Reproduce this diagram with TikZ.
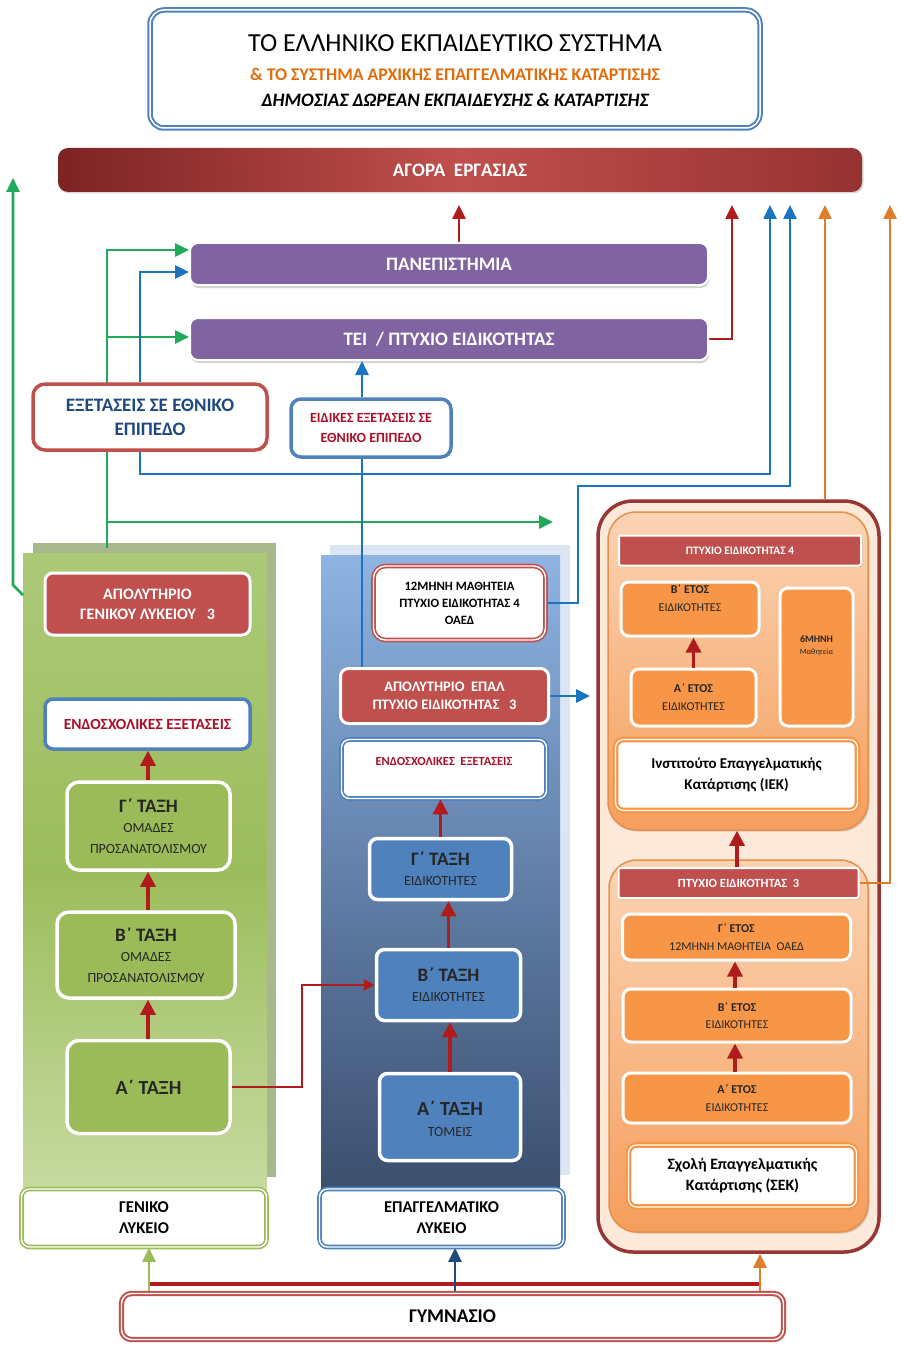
\documentclass[tikz,border=0pt]{standalone}
\usepackage{fontspec}
\setmainfont{Carlito}
\usetikzlibrary{arrows.meta,shadows,calc}
\definecolor{cred}{HTML}{C0504D}
\definecolor{carr}{HTML}{B01C1C}
\definecolor{cblue}{HTML}{4F81BD}
\definecolor{cblink}{HTML}{1B75BC}
\definecolor{cnavy}{HTML}{1F497D}
\definecolor{cgreen}{HTML}{9BBB59}
\definecolor{cglink}{HTML}{1EAA58}
\definecolor{corange}{HTML}{F79646}
\definecolor{colink}{HTML}{E07D2C}
\definecolor{cpurple}{HTML}{8064A2}
\definecolor{ctred}{HTML}{A8102A}
\definecolor{cframe}{HTML}{953735}
\definecolor{cpeach}{HTML}{FDE9D9}
\definecolor{ctitleor}{HTML}{E36C09}
\definecolor{gtop}{RGB}{172,201,120}
\definecolor{gmid}{RGB}{156,189,92}
\definecolor{gbot}{RGB}{198,218,160}
\definecolor{gshadow}{RGB}{168,184,140}
\definecolor{btop}{RGB}{142,180,227}
\definecolor{bmid}{RGB}{98,128,170}
\definecolor{bbot}{RGB}{60,80,110}
\definecolor{bshadow}{RGB}{220,230,242}
\definecolor{otop}{RGB}{251,212,180}
\definecolor{obot}{RGB}{245,158,92}
\definecolor{agl}{RGB}{125,35,35}
\definecolor{agr}{RGB}{150,50,50}
\newcommand\fs[2]{\fontsize{#1}{#2}\selectfont}
\pgfdeclarelayer{back}
\pgfdeclarelayer{mid}
\pgfsetlayers{back,mid,main}
\tikzset{
 bx/.style={rounded corners=8pt, align=center, inner sep=1pt},
 shd/.style={drop shadow={opacity=0.3,shadow xshift=1.5pt,shadow yshift=-1.5pt}},
 redbx/.style={bx, shd, fill=cred, draw=white, line width=3pt, text=white, font=\bfseries\fs{16}{20}},
 whbx/.style={bx, shd, fill=white, line width=1.6pt, double=white, double distance=1.4pt},
 gbx/.style={bx, shd, fill=cgreen, draw=white, line width=3.5pt, text=black!85, font=\fs{14}{20.5}},
 mbx/.style={bx, shd, fill=cblue, draw=white, line width=3.5pt, text=black!85, font=\fs{14}{20.5}},
 obx/.style={bx, shd, fill=corange, draw=white, line width=3pt, text=black!85, font=\fs{12}{17.5}},
 pbx/.style={bx, fill=cpurple, draw=white, line width=2pt, text=white, font=\bfseries\fs{19}{22}, drop shadow={opacity=0.35, shadow xshift=1pt, shadow yshift=-3pt}},
 lyk/.style={whbx, text=black, font=\bfseries\fs{16.5}{21}},
 lbl/.style={align=center, inner sep=0pt, anchor=center},
 tip/.style={-{Triangle[width=13pt,length=14pt]}},
 gl/.style={draw=cglink, line width=2.6pt, tip},
 bl/.style={draw=cblink, line width=2.6pt, tip},
 blnone/.style={draw=cblink, line width=2.6pt},
 rl/.style={draw=carr, line width=2.6pt, tip},
 ol/.style={draw=colink, line width=2.6pt, tip},
 uparr/.style={draw=carr, line width=3.2pt, -{Triangle[width=15pt,length=15pt]}},
}
\begin{document}
\begin{tikzpicture}[x=1pt,y=-1pt]
\useasboundingbox (0,0) rectangle (903,1356);

% ---------- background panels ----------
\begin{pgfonlayer}{back}
\fill[white] (0,0) rectangle (903,1356);
\fill[gshadow] (33,543) rectangle (276,1177);
\node[inner sep=0pt, minimum width=244pt, minimum height=637pt, top color=gtop, bottom color=gbot, middle color=gmid] (gpanel) at (145,871.5) {};
\fill[bshadow] (330,545) rectangle (570,1175);
\node[inner sep=0pt, minimum width=239pt, minimum height=633pt, top color=btop, bottom color=bbot, middle color=bmid] (bpanel) at (440.5,871.5) {};
\node[rounded corners=35pt, fill=cpeach, draw=cframe, line width=3.5pt, minimum width=281pt, minimum height=751pt, inner sep=0pt, shd] (frame) at (738.5,876.5) {};
\node[rounded corners=28pt, top color=otop, bottom color=obot, draw=colink!85, line width=1.5pt, minimum width=260pt, minimum height=318pt, inner sep=0pt, shd] (iekf) at (738,671) {};
\node[rounded corners=28pt, top color=otop, bottom color=obot, draw=colink!85, line width=1.5pt, minimum width=259pt, minimum height=372pt, inner sep=0pt, shd] (sekf) at (738.5,1046) {};
\end{pgfonlayer}

% ---------- title ----------
\node[bx, rounded corners=14pt, fill=white, draw=cblue, line width=2pt, double=white, double distance=1.5pt, shd, minimum width=610pt, minimum height=118pt] (title) at (455,69) {};
\node[font=\fs{26}{28}] (t1) at (455,43) {ΤΟ ΕΛΛΗΝΙΚΟ ΕΚΠΑΙΔΕΥΤΙΚΟ ΣΥΣΤΗΜΑ};
\node[font=\bfseries\fs{17.8}{20}, text=ctitleor] (t2) at (455,74) {\& ΤΟ ΣΥΣΤΗΜΑ ΑΡΧΙΚΗΣ ΕΠΑΓΓΕΛΜΑΤΙΚΗΣ ΚΑΤΑΡΤΙΣΗΣ};
\node[font=\bfseries\itshape\fs{19}{21}] (t3) at (455,100) {ΔΗΜΟΣΙΑΣ ΔΩΡΕΑΝ ΕΚΠΑΙΔΕΥΣΗΣ \& ΚΑΤΑΡΤΙΣΗΣ};

\node[rounded corners=10pt, left color=agl, right color=agr, middle color=cred, minimum width=804pt, minimum height=44pt, text=white, font=\bfseries\fs{19}{22}, shd] (agora) at (460,170) {ΑΓΟΡΑ\ \ ΕΡΓΑΣΙΑΣ};

\node[pbx, minimum width=518pt, minimum height=42pt] (univ) at (449,264) {ΠΑΝΕΠΙΣΤΗΜΙΑ};
\node[pbx, minimum width=518pt, minimum height=42pt] (tei) at (449,339) {ΤΕΙ\ \ /\ ΠΤΥΧΙΟ ΕΙΔΙΚΟΤΗΤΑΣ};

\node[bx, rounded corners=12pt, shd, fill=white, draw=cred, line width=3.5pt, minimum width=234pt, minimum height=66pt, text=cnavy, font=\bfseries\fs{19}{24}] (exams) at (150,417) {ΕΞΕΤΑΣΕΙΣ ΣΕ ΕΘΝΙΚΟ\\ΕΠΙΠΕΔΟ};
\node[bx, rounded corners=10pt, shd, fill=white, draw=cblue, line width=3.5pt, minimum width=160pt, minimum height=58pt, text=ctred, font=\bfseries\fs{14}{19.5}] (special) at (371,428) {ΕΙΔΙΚΕΣ ΕΞΕΤΑΣΕΙΣ ΣΕ\\ΕΘΝΙΚΟ ΕΠΙΠΕΔΟ};

% ---------- general lyceum ----------
\node[redbx, minimum width=205pt, minimum height=62pt] (agen) at (147.5,604) {ΑΠΟΛΥΤΗΡΙΟ\\ΓΕΝΙΚΟΥ ΛΥΚΕΙΟΥ\ \ \ 3};
\node[bx, shd, fill=white, draw=cblue, line width=3.5pt, minimum width=205pt, minimum height=50pt, text=ctred, font=\bfseries\fs{15.5}{18}] (gexam) at (147.5,724) {ΕΝΔΟΣΧΟΛΙΚΕΣ ΕΞΕΤΑΣΕΙΣ};
\node[gbx, rounded corners=12pt, minimum width=163pt, minimum height=88pt] (gg) at (148.5,826) {{\bfseries\fs{19}{20}Γ΄ ΤΑΞΗ}\\ΟΜΑΔΕΣ\\ΠΡΟΣΑΝΑΤΟΛΙΣΜΟΥ};
\node[gbx, rounded corners=12pt, minimum width=178pt, minimum height=86pt] (gb) at (146,955) {{\bfseries\fs{19}{20}Β΄ ΤΑΞΗ}\\ΟΜΑΔΕΣ\\ΠΡΟΣΑΝΑΤΟΛΙΣΜΟΥ};
\node[gbx, rounded corners=12pt, minimum width=163pt, minimum height=93pt, font=\bfseries\fs{20}{22}] (ga) at (148.5,1087) {Α΄ ΤΑΞΗ};
\node[lyk, draw=cgreen, minimum width=245pt, minimum height=58pt] (genlyk) at (144,1218) {ΓΕΝΙΚΟ\\ΛΥΚΕΙΟ};

% ---------- vocational lyceum ----------
\node[whbx, draw=cred, rounded corners=12pt, minimum width=172pt, minimum height=74pt, text=black, font=\bfseries\fs{12.7}{17}] (m12) at (459.5,603) {12ΜΗΝΗ ΜΑΘΗΤΕΙΑ\\ΠΤΥΧΙΟ ΕΙΔΙΚΟΤΗΤΑΣ 4\\ΟΑΕΔ};
\node[redbx, font=\bfseries\fs{14.5}{18.5}, minimum width=208pt, minimum height=55pt] (epal) at (444.5,696) {ΑΠΟΛΥΤΗΡΙΟ\ \ ΕΠΑΛ\\ΠΤΥΧΙΟ ΕΙΔΙΚΟΤΗΤΑΣ\ \ \ 3};
\node[whbx, draw=cblue, minimum width=205pt, minimum height=59pt, label={[lbl, text=ctred, font=\bfseries\fs{12.4}{14}, yshift=-23pt]90:{ΕΝΔΟΣΧΟΛΙΚΕΣ\ \ ΕΞΕΤΑΣΕΙΣ}}] (mexam) at (444,769) {};
\node[mbx, minimum width=142pt, minimum height=61pt] (mg) at (440.5,869) {{\bfseries\fs{19}{20}Γ΄ ΤΑΞΗ}\\ΕΙΔΙΚΟΤΗΤΕΣ};
\node[mbx, minimum width=144pt, minimum height=71pt] (mb) at (448.5,985) {{\bfseries\fs{19}{20}Β΄ ΤΑΞΗ}\\ΕΙΔΙΚΟΤΗΤΕΣ};
\node[mbx, minimum width=141pt, minimum height=87pt, label={[lbl, text=black!85, font=\fs{14}{21}, yshift=-47pt]90:{{\bfseries\fs{20}{21}Α΄ ΤΑΞΗ}\\ΤΟΜΕΙΣ}}] (ma) at (450,1117) {};
\node[lyk, draw=cblue, minimum width=244pt, minimum height=58pt] (epag) at (441.5,1218) {ΕΠΑΓΓΕΛΜΑΤΙΚΟ\\ΛΥΚΕΙΟ};

% ---------- IEK ----------
\node[redbx, rounded corners=2pt, line width=2pt, font=\bfseries\fs{11.4}{13}, minimum width=242pt, minimum height=30pt] (p4) at (740,550.5) {ΠΤΥΧΙΟ ΕΙΔΙΚΟΤΗΤΑΣ 4};
\node[obx, minimum width=138pt, minimum height=54pt, label={[lbl, text=black!85, font=\fs{12}{17.5}, yshift=-18pt]90:{{\bfseries Β΄ ΕΤΟΣ}\\ΕΙΔΙΚΟΤΗΤΕΣ}}] (rb) at (690,609) {};
\node[obx, minimum width=125pt, minimum height=57pt] (ra) at (693.5,697.5) {{\bfseries Α΄ ΕΤΟΣ}\\ΕΙΔΙΚΟΤΗΤΕΣ};
\node[obx, minimum width=73pt, minimum height=138pt, label={[lbl, text=black!85, font=\fs{8}{12}, yshift=-59pt]90:{{\bfseries\fs{10}{12}6ΜΗΝΗ}\\Μαθητεία}}] (r6) at (816.5,657) {};
\node[bx, fill=white, draw=corange, line width=2.2pt, double=white, double distance=1.2pt, minimum width=242pt, minimum height=71pt, text=black, font=\bfseries\fs{15}{21}] (iek) at (736.5,775) {Ινστιτούτο Επαγγελματικής\\Κατάρτισης (ΙΕΚ)};

% ---------- SEK ----------
\node[redbx, rounded corners=2pt, line width=2pt, font=\bfseries\fs{12.5}{14}, minimum width=240pt, minimum height=30pt] (p3) at (738.5,883) {ΠΤΥΧΙΟ ΕΙΔΙΚΟΤΗΤΑΣ\ \ 3};
\node[obx, minimum width=228pt, minimum height=46pt] (sg) at (736.5,937) {{\bfseries Γ΄ ΕΤΟΣ}\\12ΜΗΝΗ ΜΑΘΗΤΕΙΑ\ \ ΟΑΕΔ};
\node[obx, minimum width=228pt, minimum height=53pt] (sb) at (737,1015.5) {{\bfseries Β΄ ΕΤΟΣ}\\ΕΙΔΙΚΟΤΗΤΕΣ};
\node[obx, minimum width=228pt, minimum height=50pt] (sa) at (737,1098) {{\bfseries Α΄ ΕΤΟΣ}\\ΕΙΔΙΚΟΤΗΤΕΣ};
\node[bx, fill=white, draw=corange, line width=2.2pt, double=white, double distance=1.2pt, minimum width=228pt, minimum height=62pt, text=black, font=\bfseries\fs{15.8}{21}] (sek) at (742.5,1176) {Σχολή Επαγγελματικής\\Κατάρτισης (ΣΕΚ)};

% ---------- gymnasio ----------
\node[whbx, draw=cred, rounded corners=10pt, line width=2pt, minimum width=662pt, minimum height=46pt, text=black, font=\bfseries\fs{19.4}{22}] (gym) at (452.5,1316.5) {ΓΥΜΝΑΣΙΟ};

% ---------- helper coordinates ----------
\coordinate (gup) at (13,178);
\coordinate (gbend) at (13,585);
\coordinate (gstart) at (23,595);
\coordinate (gx) at (107,548);
\coordinate (gtopb) at (107,250);
\coordinate (gmidb) at (107,337);
\coordinate (glowb) at (107,522);
\coordinate (gright) at (553,522);
\coordinate (xb) at (140,0);
\coordinate (yb) at (0,272);
\coordinate (bbend) at (140,474);
\coordinate (bu1) at (770,205);
\coordinate (bu2) at (790,205);
\coordinate (bbend2) at (578,486);
\coordinate (xs) at (362,0);
\coordinate (bright) at (590,696);
\coordinate (ag1) at (459,205);
\coordinate (ag2) at (732,205);
\coordinate (rbend) at (302,1087);
\coordinate (xo1) at (825,0);
\coordinate (ou1) at (825,205);
\coordinate (ou2) at (890,205);
\coordinate (xg) at (149,0);
\coordinate (xn) at (455,0);
\coordinate (xo) at (760,0);
\coordinate (rl1) at (149,1284);
\coordinate (rl2) at (760,1284);
\coordinate (xr1) at (737,0);
\coordinate (xr2) at (735,0);
\coordinate (xl) at (148,0);

% ---------- connectors ----------
\begin{pgfonlayer}{mid}
\draw[gl] (gstart) -- (gbend) -- (gup);
\draw[gl] (gx) -- (gtopb) -- (univ.west |- gtopb);
\draw[gl] (gmidb) -- (tei.west |- gmidb);
\draw[gl] (glowb) -- (gright);
\draw[bl] (exams.north -| xb) |- (univ.west |- yb);
\draw[bl] (exams.south -| xb) -- (bbend) -| (bu1);
\draw[bl] (m12.east) -| (bbend2) -| (bu2);
\draw[bl] (special.north -| xs) -- (tei.south -| xs);
\draw[blnone] (special.south -| xs) -- (epal.north -| xs);
\draw[bl] (epal.east) -- (bright);
\draw[rl] (univ.north -| ag1) -- (ag1);
\draw[rl] (tei.east) -| (ag2);
\draw[draw=carr, line width=2.2pt, -{Triangle[width=11pt,length=11pt]}] (ga.east) -- (rbend) |- (mb.west);
\draw[ol] (frame.north -| xo1) -- (ou1);
\draw[ol] (p3.east) -| (ou2);
\draw[draw=carr, line width=3.5pt] (rl1) -- (rl2);
\draw[draw=cgreen, line width=2.6pt, tip] (gym.north -| xg) -- (genlyk.south -| xg);
\draw[draw=cnavy, line width=2.6pt, tip] (gym.north -| xn) -- (epag.south -| xn);
\draw[draw=colink, line width=2.6pt, tip] (gym.north -| xo) -- (frame.south -| xo);
\end{pgfonlayer}
\draw[uparr] (gg.north -| xl) -- (gexam.south -| xl);
\draw[uparr] (gb.north -| xl) -- (gg.south -| xl);
\draw[uparr] (ga.north -| xl) -- (gb.south -| xl);
\draw[uparr] (mg.north) -- (mexam.south -| mg.north);
\draw[uparr] (mb.north) -- (mg.south -| mb.north);
\draw[uparr] (ma.north) -- (mb.south -| ma.north);
\draw[uparr] (ra.north) -- (rb.south -| ra.north);
\draw[uparr] (p3.north -| xr1) -- (iekf.south -| xr1);
\draw[uparr] (sb.north -| xr2) -- (sg.south -| xr2);
\draw[uparr] (sa.north -| xr2) -- (sb.south -| xr2);
\end{tikzpicture}
\end{document}
